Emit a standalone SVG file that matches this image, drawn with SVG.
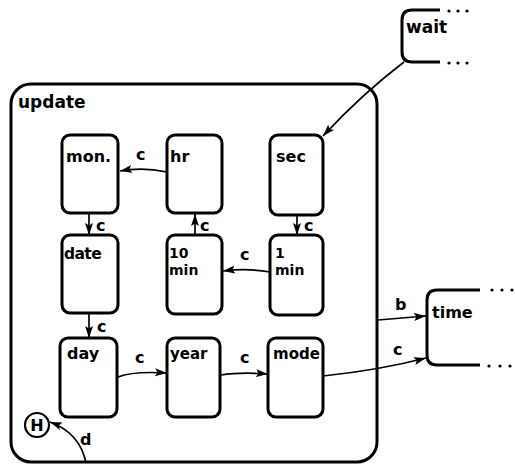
<svg xmlns="http://www.w3.org/2000/svg" width="515" height="467" viewBox="0 0 515 467">
<style>
.box{fill:none;stroke:#000;stroke-width:3}
.node{fill:#fff;stroke:#000;stroke-width:3}
.lbl{font-family:"DejaVu Sans",sans-serif;font-weight:bold;font-size:16px;fill:#000}
.two{font-size:14px}
.edge{fill:none;stroke:#000;stroke-width:1.7}
.dot{fill:#000}
</style>
<defs>
<marker id="arr" markerUnits="userSpaceOnUse" markerWidth="13" markerHeight="9" refX="12" refY="4" orient="auto">
<path d="M0,0 L12,4 L0,8 L2.5,4 z" fill="#000"/>
</marker>
</defs>
<g id="update">
<rect class="box" x="11" y="84" width="366" height="378" rx="20"/>
<text class="lbl" x="18" y="108" style="font-size:17px">update</text>
</g>
<g id="wait">
<path class="box" d="M440,10 L412,10 Q402,10 402,20 L402,52 Q402,62 412,62 L440,62"/>
<circle class="dot" cx="449" cy="11" r="1.6"/><circle class="dot" cx="458" cy="11" r="1.6"/><circle class="dot" cx="467" cy="11" r="1.6"/>
<circle class="dot" cx="449" cy="63" r="1.6"/><circle class="dot" cx="458" cy="63" r="1.6"/><circle class="dot" cx="467" cy="63" r="1.6"/>
<text class="lbl" x="406" y="33" style="font-size:17px">wait</text>
</g>
<g id="time">
<path class="box" d="M480,290 L437,290 Q427,290 427,300 L427,355 Q427,365 437,365 L480,365"/>
<circle class="dot" cx="492" cy="290" r="1.6"/><circle class="dot" cx="502" cy="290" r="1.6"/><circle class="dot" cx="512" cy="290" r="1.6"/>
<circle class="dot" cx="489" cy="366" r="1.6"/><circle class="dot" cx="500" cy="366" r="1.6"/><circle class="dot" cx="510" cy="366" r="1.6"/>
<text class="lbl" x="432" y="318">time</text>
</g>
<g id="mon">
<rect class="node" x="62" y="135" width="56" height="78" rx="8"/>
<text class="lbl" x="66" y="162">mon.</text>
</g>
<g id="hr">
<rect class="node" x="167" y="135" width="55" height="78" rx="8"/>
<text class="lbl" x="170" y="162">hr</text>
</g>
<g id="sec">
<rect class="node" x="270" y="135" width="53" height="80" rx="8"/>
<text class="lbl" x="276" y="162">sec</text>
</g>
<g id="date">
<rect class="node" x="62" y="235" width="56" height="78" rx="8"/>
<text class="lbl" x="64" y="259" style="font-size:15.5px;letter-spacing:-0.6px">date</text>
</g>
<g id="tenmin">
<rect class="node" x="167" y="235" width="55" height="79" rx="8"/>
<text class="lbl two" x="169" y="258">10</text>
<text class="lbl two" x="169" y="275">min</text>
</g>
<g id="onemin">
<rect class="node" x="270" y="235" width="53" height="80" rx="8"/>
<text class="lbl two" x="275" y="258">1</text>
<text class="lbl two" x="275" y="275">min</text>
</g>
<g id="day">
<rect class="node" x="60" y="338" width="57" height="79" rx="8"/>
<text class="lbl" x="67" y="359">day</text>
</g>
<g id="year">
<rect class="node" x="167" y="338" width="53" height="79" rx="8"/>
<text class="lbl" x="170" y="359" style="font-size:15px">year</text>
</g>
<g id="mode">
<rect class="node" x="268" y="338" width="55" height="79" rx="8"/>
<text class="lbl" x="273" y="359" style="font-size:15px">mode</text>
</g>
<g id="history">
<circle cx="37" cy="425" r="12" fill="#fff" stroke="#000" stroke-width="2.2"/>
<text class="lbl" x="37" y="431" text-anchor="middle" style="font-size:16px">H</text>
</g>
<g id="connectors">
<path class="edge" marker-end="url(#arr)" d="M167,172 Q143,167 120,171"/>
<path class="edge" marker-end="url(#arr)" d="M89,214 L89,235"/>
<path class="edge" marker-end="url(#arr)" d="M195,235 L195,214"/>
<path class="edge" marker-end="url(#arr)" d="M297,216 L297,235"/>
<path class="edge" marker-end="url(#arr)" d="M270,272 Q248,268 223,271"/>
<path class="edge" marker-end="url(#arr)" d="M89,314 L89,338"/>
<path class="edge" marker-end="url(#arr)" d="M118,377 Q133,371 167,373"/>
<path class="edge" marker-end="url(#arr)" d="M221,375 Q240,372 268,374"/>
<path class="edge" marker-end="url(#arr)" d="M323,376 Q380,370 426,358"/>
<path class="edge" marker-end="url(#arr)" d="M378,320 L426,316"/>
<path class="edge" marker-end="url(#arr)" d="M404,62 Q362,94 323,136"/>
<path class="edge" marker-end="url(#arr)" d="M86,463 Q80,433 50,422"/>
<text class="lbl" x="136" y="160">c</text>
<text class="lbl" x="96" y="231">c</text>
<text class="lbl" x="200" y="231">c</text>
<text class="lbl" x="304" y="231">c</text>
<text class="lbl" x="240" y="260">c</text>
<text class="lbl" x="97" y="332">c</text>
<text class="lbl" x="135" y="363">c</text>
<text class="lbl" x="240" y="363">c</text>
<text class="lbl" x="393" y="355">c</text>
<text class="lbl" x="395" y="310">b</text>
<text class="lbl" x="80" y="445">d</text>
</g>
</svg>
